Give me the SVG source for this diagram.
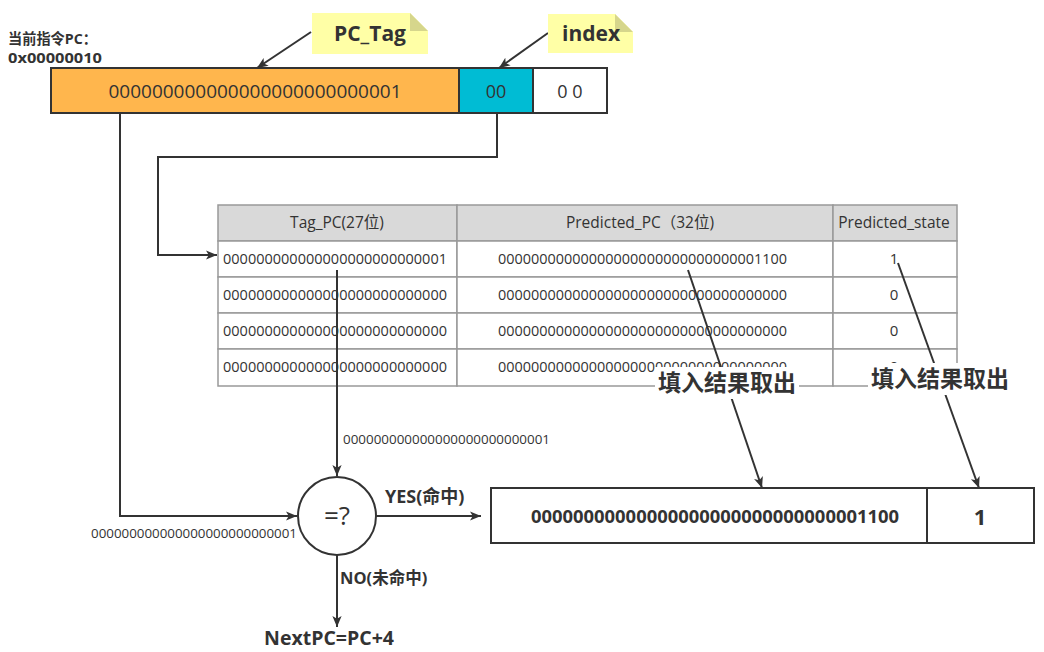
<svg xmlns="http://www.w3.org/2000/svg" width="1044" height="652" viewBox="0 0 1044 652">
<defs>
<marker id="ah" viewBox="0 0 10 10" refX="10" refY="5" markerWidth="11" markerHeight="11" markerUnits="userSpaceOnUse" orient="auto">
<path d="M0,0.8 L10,5 L0,9.2 L2.5,5 z" fill="#333"/>
</marker>
<style>
.t{font-family:"Open Sans","Noto Sans CJK SC",sans-serif;fill:#333}
.b{font-weight:bold}
.ln{fill:none;stroke:#333;stroke-width:2}
.cell{fill:#fff;stroke:#999;stroke-width:1.5}
.hd{fill:#d9d9d9;stroke:#999;stroke-width:1.5}
.note{fill:#ffffa6}
.fold{fill:#d6d68c}
.box{stroke:#333;stroke-width:2}
</style>
</defs>
<rect width="1044" height="652" fill="#fff"/>

<g id="pc-label">
<text class="t b" x="8" y="44" font-size="14.5" textLength="89" lengthAdjust="spacingAndGlyphs">当前指令PC：</text>
<text class="t b" x="8" y="63" font-size="14.5" textLength="94" lengthAdjust="spacingAndGlyphs">0x00000010</text>
</g>

<g id="pc-bar">
<rect class="box" x="51" y="68" width="408" height="45" fill="#ffb64d"/>
<rect class="box" x="459" y="68" width="74" height="45" fill="#00bcd4"/>
<rect class="box" x="533" y="68" width="74" height="45" fill="#fff"/>
<text class="t" x="255" y="98" font-size="18" text-anchor="middle" textLength="293" lengthAdjust="spacingAndGlyphs">000000000000000000000000001</text>
<text class="t" x="496" y="98" font-size="18" text-anchor="middle">00</text>
<text class="t" x="570" y="98" font-size="18" text-anchor="middle">0 0</text>
</g>

<g id="table">
<rect class="hd" x="218" y="205" width="239" height="36"/>
<rect class="hd" x="457" y="205" width="376" height="36"/>
<rect class="hd" x="833" y="205" width="124" height="36"/>
<rect class="cell" x="218" y="241" width="239" height="36"/>
<rect class="cell" x="457" y="241" width="376" height="36"/>
<rect class="cell" x="833" y="241" width="124" height="36"/>
<rect class="cell" x="218" y="277" width="239" height="36"/>
<rect class="cell" x="457" y="277" width="376" height="36"/>
<rect class="cell" x="833" y="277" width="124" height="36"/>
<rect class="cell" x="218" y="313" width="239" height="36"/>
<rect class="cell" x="457" y="313" width="376" height="36"/>
<rect class="cell" x="833" y="313" width="124" height="36"/>
<rect class="cell" x="218" y="349" width="239" height="37"/>
<rect class="cell" x="457" y="349" width="376" height="37"/>
<rect class="cell" x="833" y="349" width="124" height="37"/>
<text class="t" x="337" y="228" font-size="15.5" text-anchor="middle">Tag_PC(27位)</text>
<text class="t" x="640" y="228" font-size="15.5" text-anchor="middle">Predicted_PC（32位)</text>
<text class="t" x="894" y="228" font-size="15.5" text-anchor="middle">Predicted_state</text>
<text class="t" x="223" y="264" font-size="15" textLength="224" lengthAdjust="spacingAndGlyphs">000000000000000000000000001</text>
<text class="t" x="223" y="300" font-size="15" textLength="224" lengthAdjust="spacingAndGlyphs">000000000000000000000000000</text>
<text class="t" x="223" y="336" font-size="15" textLength="224" lengthAdjust="spacingAndGlyphs">000000000000000000000000000</text>
<text class="t" x="223" y="372" font-size="15" textLength="224" lengthAdjust="spacingAndGlyphs">000000000000000000000000000</text>
<text class="t" x="498" y="264" font-size="15" textLength="289" lengthAdjust="spacingAndGlyphs">00000000000000000000000000000001100</text>
<text class="t" x="498" y="300" font-size="15" textLength="289" lengthAdjust="spacingAndGlyphs">00000000000000000000000000000000000</text>
<text class="t" x="498" y="336" font-size="15" textLength="289" lengthAdjust="spacingAndGlyphs">00000000000000000000000000000000000</text>
<text class="t" x="498" y="372" font-size="15" textLength="289" lengthAdjust="spacingAndGlyphs">00000000000000000000000000000000000</text>
<text class="t" x="894" y="264" font-size="15" text-anchor="middle">1</text>
<text class="t" x="894" y="300" font-size="15" text-anchor="middle">0</text>
<text class="t" x="894" y="336" font-size="15" text-anchor="middle">0</text>
<text class="t" x="894" y="372" font-size="15" text-anchor="middle">0</text>
</g>

<g id="connectors">
<path class="ln" d="M311,32 L257,68" marker-end="url(#ah)"/>
<path class="ln" d="M548,33 L499,68" marker-end="url(#ah)"/>
<path class="ln" d="M497,113 V157 H158 V255 H217" marker-end="url(#ah)"/>
<path class="ln" d="M120,113 V516 H297" marker-end="url(#ah)"/>
<path class="ln" d="M337,270 V476" marker-end="url(#ah)"/>
<path class="ln" d="M376,516 H481" marker-end="url(#ah)"/>
<path class="ln" d="M337,555 V627" marker-end="url(#ah)"/>
<path class="ln" d="M688,270 L762,488" marker-end="url(#ah)"/>
<path class="ln" d="M898,263 L979,488" marker-end="url(#ah)"/>
<text class="t" x="343" y="444" font-size="12.5" textLength="207" lengthAdjust="spacingAndGlyphs">000000000000000000000000001</text>
<text class="t" x="91" y="538" font-size="12.5" textLength="206" lengthAdjust="spacingAndGlyphs">000000000000000000000000001</text>
<text class="t b" x="385" y="503" font-size="18">YES(命中)</text>
<text class="t b" x="340" y="584" font-size="16.5">NO(未命中)</text>
<rect x="655" y="367" width="144" height="32" fill="#fff"/>
<text class="t b" x="727" y="391" font-size="23" text-anchor="middle">填入结果取出</text>
<rect x="868" y="363" width="143" height="32" fill="#fff"/>
<text class="t b" x="940" y="387" font-size="23" text-anchor="middle">填入结果取出</text>
</g>

<g id="note-pctag">
<path class="note" d="M312,13 H410 L428,31 V54 H312 Z"/>
<path class="fold" d="M410,13 V31 H428 Z"/>
<text class="t b" x="370" y="41" font-size="21" text-anchor="middle">PC_Tag</text>
</g>

<g id="note-index">
<path class="note" d="M548,14 H615 L633,32 V53 H548 Z"/>
<path class="fold" d="M615,14 V32 H633 Z"/>
<text class="t b" x="591" y="41" font-size="21" text-anchor="middle">index</text>
</g>

<g id="compare">
<circle cx="337" cy="516" r="39" fill="#fff" stroke="#333" stroke-width="2"/>
<text class="t" x="337" y="525" font-size="26" text-anchor="middle">=?</text>
</g>

<g id="next-pc">
<text class="t b" x="329" y="645" font-size="19.5" text-anchor="middle">NextPC=PC+4</text>
</g>

<g id="result">
<rect class="box" x="491" y="488" width="436" height="55" fill="#fff"/>
<rect class="box" x="927" y="488" width="107" height="55" fill="#fff"/>
<text class="t b" x="715" y="523" font-size="18" text-anchor="middle" textLength="368" lengthAdjust="spacingAndGlyphs">00000000000000000000000000000001100</text>
<text class="t b" x="980" y="525" font-size="22" text-anchor="middle">1</text>
</g>
</svg>
